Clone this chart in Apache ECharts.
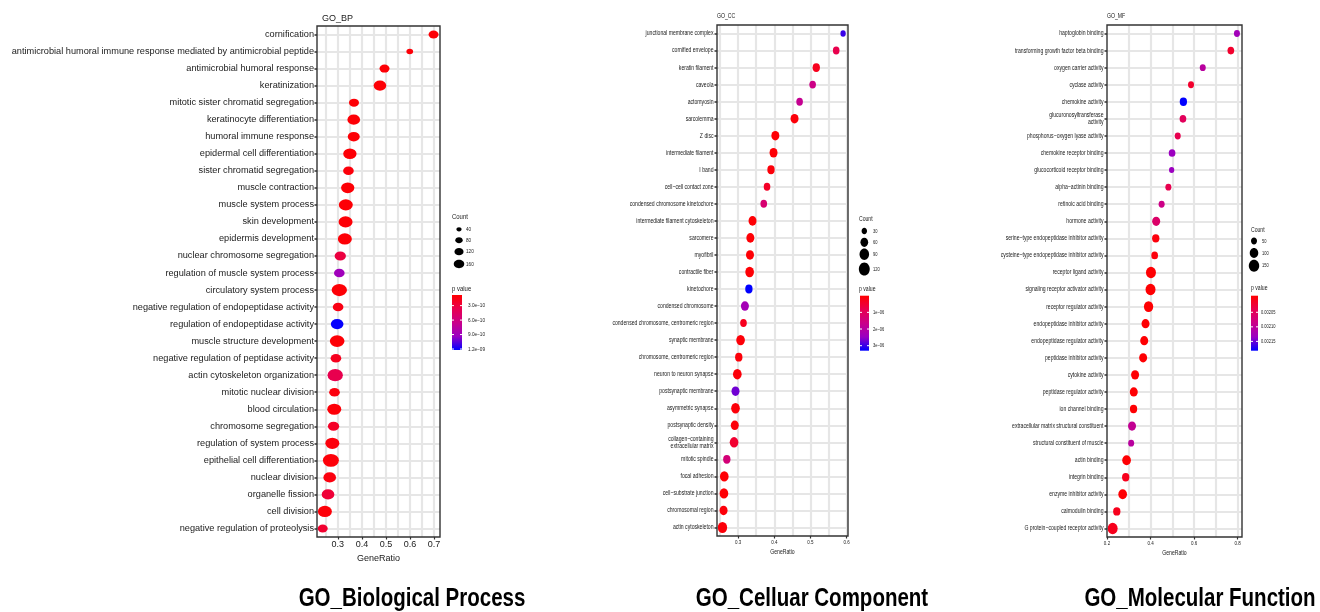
<!DOCTYPE html>
<html>
<head>
<meta charset="utf-8">
<script src="https://cdn.jsdelivr.net/npm/echarts@6/dist/echarts.min.js"></script>
<style>
  html, body { margin: 0; padding: 0; background: #fff; }
  #chart { width: 1320px; height: 612px; }
</style>
</head>
<body>
<div id="chart"></div>
<script>
// ---------- GO Biological Process ----------
const bpTerms = [
  'cornification',
  'antimicrobial humoral immune response mediated by antimicrobial peptide',
  'antimicrobial humoral response',
  'keratinization',
  'mitotic sister chromatid segregation',
  'keratinocyte differentiation',
  'humoral immune response',
  'epidermal cell differentiation',
  'sister chromatid segregation',
  'muscle contraction',
  'muscle system process',
  'skin development',
  'epidermis development',
  'nuclear chromosome segregation',
  'regulation of muscle system process',
  'circulatory system process',
  'negative regulation of endopeptidase activity',
  'regulation of endopeptidase activity',
  'muscle structure development',
  'negative regulation of peptidase activity',
  'actin cytoskeleton organization',
  'mitotic nuclear division',
  'blood circulation',
  'chromosome segregation',
  'regulation of system process',
  'epithelial cell differentiation',
  'nuclear division',
  'organelle fission',
  'cell division',
  'negative regulation of proteolysis'
];
const bpRatio = [0.698, 0.599, 0.494, 0.475, 0.367, 0.366, 0.366, 0.350, 0.344, 0.341,
                 0.333, 0.332, 0.329, 0.310, 0.306, 0.306, 0.301, 0.297, 0.297, 0.292,
                 0.289, 0.286, 0.285, 0.282, 0.277, 0.271, 0.266, 0.259, 0.246, 0.237];
const bpCount = [145, 65, 145, 233, 145, 233, 209, 258, 165, 258,
                 285, 285, 285, 186, 165, 341, 165, 233, 312, 165,
                 341, 165, 285, 186, 285, 372, 233, 233, 285, 145];
const bpP = [1.0e-10, 1.1e-10, 1.0e-10, 1.0e-10, 1.0e-10, 1.0e-10, 1.0e-10, 1.0e-10, 1.2e-10, 1.0e-10,
             1.0e-10, 1.0e-10, 1.0e-10, 3.1e-10, 9.0e-10, 1.0e-10, 1.5e-10, 1.21e-9, 1.0e-10, 1.9e-10,
             3.6e-10, 1.3e-10, 1.1e-10, 2.2e-10, 1.2e-10, 1.1e-10, 1.3e-10, 2.8e-10, 1.1e-10, 2.5e-10];
const bpTicks = [0.3, 0.4, 0.5, 0.6, 0.7];
const bpGridX = [0.25, 0.3, 0.35, 0.4, 0.45, 0.5, 0.55, 0.6, 0.65, 0.7];
const bpCountBreaks = [40, 80, 120, 160];
const bpPBreaks = [3e-10, 6e-10, 9e-10, 1.2e-9];
const bpPLabels = ['3.0e\u221210', '6.0e\u221210', '9.0e\u221210', '1.2e\u221209'];

// ---------- GO Cellular Component ----------
const ccTerms = [
  'junctional membrane complex',
  'cornified envelope',
  'keratin filament',
  'caveola',
  'actomyosin',
  'sarcolemma',
  'Z disc',
  'intermediate filament',
  'I band',
  'cell\u2212cell contact zone',
  'condensed chromosome kinetochore',
  'intermediate filament cytoskeleton',
  'sarcomere',
  'myofibril',
  'contractile fiber',
  'kinetochore',
  'condensed chromosome',
  'condensed chromosome, centromeric region',
  'synaptic membrane',
  'chromosome, centromeric region',
  'neuron to neuron synapse',
  'postsynaptic membrane',
  'asymmetric synapse',
  'postsynaptic density',
  'collagen\u2212containing\nextracellular matrix',
  'mitotic spindle',
  'focal adhesion',
  'cell\u2212substrate junction',
  'chromosomal region',
  'actin cytoskeleton'
];
const ccRatio = [0.590, 0.571, 0.516, 0.506, 0.470, 0.456, 0.403, 0.398, 0.391, 0.380,
                 0.371, 0.340, 0.334, 0.333, 0.332, 0.330, 0.319, 0.315, 0.307, 0.302,
                 0.298, 0.293, 0.293, 0.291, 0.289, 0.269, 0.262, 0.261, 0.260, 0.257];
const ccCount = [28, 44, 54, 44, 44, 64, 64, 64, 54, 44,
                 44, 64, 64, 64, 75, 54, 64, 44, 75, 54,
                 75, 64, 75, 64, 75, 54, 75, 75, 64, 87];
const ccP = [3.0e-6, 0.8e-6, 0.3e-6, 1.6e-6, 1.75e-6, 0.1e-6, 0.05e-6, 0.05e-6, 0.1e-6, 0.4e-6,
             1.3e-6, 0.05e-6, 0.05e-6, 0.05e-6, 0.05e-6, 3.3e-6, 2.3e-6, 0.3e-6, 0.08e-6, 0.1e-6,
             0.1e-6, 2.7e-6, 0.1e-6, 0.1e-6, 0.5e-6, 1.4e-6, 0.05e-6, 0.05e-6, 0.1e-6, 0.1e-6];
const ccTicks = [0.3, 0.4, 0.5, 0.6];
const ccGridX = [0.25, 0.3, 0.35, 0.4, 0.45, 0.5, 0.55, 0.6];
const ccCountBreaks = [30, 60, 90, 120];
const ccPBreaks = [1e-6, 2e-6, 3e-6];
const ccPLabels = ['1e\u221206', '2e\u221206', '3e\u221206'];

// ---------- GO Molecular Function ----------
const mfTerms = [
  'haptoglobin binding',
  'transforming growth factor beta binding',
  'oxygen carrier activity',
  'cyclase activity',
  'chemokine activity',
  'glucuronosyltransferase\nactivity',
  'phosphorus\u2212oxygen lyase activity',
  'chemokine receptor binding',
  'glucocorticoid receptor binding',
  'alpha\u2212actinin binding',
  'retinoic acid binding',
  'hormone activity',
  'serine\u2212type endopeptidase inhibitor activity',
  'cysteine\u2212type endopeptidase inhibitor activity',
  'receptor ligand activity',
  'signaling receptor activator activity',
  'receptor regulator activity',
  'endopeptidase inhibitor activity',
  'endopeptidase regulator activity',
  'peptidase inhibitor activity',
  'cytokine activity',
  'peptidase regulator activity',
  'ion channel binding',
  'extracellular matrix structural constituent',
  'structural constituent of muscle',
  'actin binding',
  'integrin binding',
  'enzyme inhibitor activity',
  'calmodulin binding',
  'G protein\u2212coupled receptor activity'
];
const mfRatio = [0.797, 0.769, 0.640, 0.586, 0.551, 0.549, 0.525, 0.499, 0.497, 0.482,
                 0.451, 0.426, 0.424, 0.419, 0.402, 0.400, 0.391, 0.377, 0.371, 0.366,
                 0.329, 0.323, 0.322, 0.315, 0.311, 0.290, 0.286, 0.272, 0.245, 0.226];
const mfCount = [50, 62, 50, 50, 74, 62, 50, 62, 39, 50,
                 50, 89, 74, 62, 138, 138, 120, 89, 89, 89,
                 89, 89, 74, 89, 50, 104, 74, 104, 74, 138];
const mfP = [0.002127, 0.002020, 0.002105, 0.002020, 0.002182, 0.002050, 0.002040, 0.002133, 0.002133, 0.002040,
             0.002085, 0.002060, 0.002000, 0.002000, 0.001995, 0.001995, 0.001995, 0.001995, 0.001995, 0.001995,
             0.001995, 0.001995, 0.001995, 0.002095, 0.002105, 0.001995, 0.002010, 0.001995, 0.002010, 0.002010];
const mfTicks = [0.2, 0.4, 0.6, 0.8];
const mfGridX = [0.3, 0.4, 0.5, 0.6, 0.7, 0.8];
const mfCountBreaks = [50, 100, 150];
const mfPBreaks = [0.00205, 0.0021, 0.00215];
const mfPLabels = ['0.00205', '0.00210', '0.00215'];

// ---------- styling ----------
const SANS = "'Liberation Sans', Arial, sans-serif";
const P_COLORS = ['#FF0000', '#E8004F', '#CA0089', '#9A00C2', '#0000FF'];
const GRID_LINE = '#E6E6E6';
const INK = '#1a1a1a';

const panels = [
  {
    title: 'GO_BP', caption: 'GO_Biological Process', captionX: 412, narrow: false,
    terms: bpTerms, ratio: bpRatio, count: bpCount, p: bpP,
    ticks: bpTicks, gridX: bpGridX,
    rect: { left: 317, top: 26, width: 123, height: 511 },
    xMin: 0.2132, xMax: 0.7248, pMin: 0.8e-10, pMax: 1.22e-9,
    sizeK: 0.83, aspect: 0.8,
    legendScale: 0.85,
    legend: { x: 452, countTitleY: 217, circleX: 459, circleY: [229.3, 240.3, 251.7, 264], labelX: 466,
              pTitleY: 289, bar: { x: 452, y: 295, w: 10, h: 55 }, pLabelX: 468 },
    countBreaks: bpCountBreaks, pBreaks: bpPBreaks, pLabels: bpPLabels
  },
  {
    title: 'GO_CC', caption: 'GO_Celluar Component', captionX: 812, narrow: true,
    terms: ccTerms, ratio: ccRatio, count: ccCount, p: ccP,
    ticks: ccTicks, gridX: ccGridX,
    rect: { left: 717, top: 25, width: 131, height: 511 },
    xMin: 0.2419, xMax: 0.6036, pMin: 0.001e-6, pMax: 3.3e-6,
    sizeK: 1.0, aspect: 1.2,
    legendScale: 0.73,
    legend: { x: 859, countTitleY: 219, circleX: 864.3, circleY: [231, 242.3, 254.3, 269], labelX: 873,
              pTitleY: 289, bar: { x: 860, y: 295.7, w: 9, h: 55 }, pLabelX: 873 },
    countBreaks: ccCountBreaks, pBreaks: ccPBreaks, pLabels: ccPLabels
  },
  {
    title: 'GO_MF', caption: 'GO_Molecular Function', captionX: 1200, narrow: true,
    terms: mfTerms, ratio: mfRatio, count: mfCount, p: mfP,
    ticks: mfTicks, gridX: mfGridX,
    rect: { left: 1107, top: 25, width: 135, height: 512 },
    xMin: 0.2, xMax: 0.8203, pMin: 0.001993, pMax: 0.002182,
    sizeK: 0.85, aspect: 1.15,
    legendScale: 0.73,
    legend: { x: 1251, countTitleY: 230, circleX: 1254, circleY: [241, 253, 265.7], labelX: 1262,
              pTitleY: 288, bar: { x: 1251, y: 295.7, w: 7, h: 55 }, pLabelX: 1261 },
    countBreaks: mfCountBreaks, pBreaks: mfPBreaks, pLabels: mfPLabels
  }
];

// dot size: width grows with sqrt(count); each panel has its own aspect
function dotSize(panel, count) {
  const w = panel.sizeK * Math.sqrt(count);
  return [w, w * panel.aspect];
}

// horizontally condensed text (the narrow panels use squeezed lettering)
function squeezedText(x, y, text, size, scale, align, vAlign, weight, color) {
  return {
    type: 'text', x: x, y: y, scaleX: scale, silent: true, z: 50,
    style: {
      text: text, x: 0, y: 0,
      font: (weight || 'normal') + ' ' + size + 'px ' + SANS,
      fill: color || INK, align: align, verticalAlign: vAlign,
      lineHeight: size * 1.02
    }
  };
}

const grids = [], xAxes = [], yAxes = [], series = [], visualMaps = [], titles = [];

panels.forEach((pn, i) => {
  grids.push({ left: pn.rect.left, top: pn.rect.top, width: pn.rect.width, height: pn.rect.height, show: false });

  xAxes.push({
    type: 'value', gridIndex: i, min: pn.xMin, max: pn.xMax,
    name: pn.narrow ? '' : 'GeneRatio', nameLocation: 'middle', nameGap: 11,
    nameTextStyle: { fontFamily: SANS, fontSize: 9, color: INK },
    axisLine: { show: false },
    axisTick: { show: true, customValues: pn.ticks, length: 2.5, lineStyle: { color: '#333', width: 1.2 } },
    axisLabel: { show: !pn.narrow, customValues: pn.ticks, fontFamily: SANS, fontSize: 9, color: INK, margin: 3,
                 formatter: v => String(Math.round(v * 10) / 10) },
    splitLine: { show: false }
  });

  yAxes.push({
    type: 'category', gridIndex: i, data: pn.terms, inverse: true,
    axisLine: { show: false },
    axisTick: { show: true, alignWithLabel: true, interval: 0, length: 2.5, lineStyle: { color: '#333', width: 1.5 } },
    axisLabel: { show: !pn.narrow, interval: 0, fontFamily: SANS, fontSize: 9.2, color: INK, margin: 3 },
    splitLine: { show: false }
  });

  const lines = pn.gridX.map(v => ({ xAxis: v }))
    .concat(pn.terms.map((t, j) => ({ yAxis: j })));

  series.push({
    type: 'scatter', xAxisIndex: i, yAxisIndex: i,
    data: pn.terms.map((t, j) => [pn.ratio[j], j, pn.count[j], pn.p[j]]),
    symbolSize: v => dotSize(pn, v[2]),
    itemStyle: { opacity: 1 },
    emphasis: { disabled: true },
    z: 3,
    markLine: {
      silent: true, z: 1, symbol: ['none', 'none'], label: { show: false },
      lineStyle: { color: GRID_LINE, width: 2.2, type: 'solid' },
      emphasis: { disabled: true },
      data: lines
    }
  });

  visualMaps.push({
    type: 'continuous', show: false, seriesIndex: i, dimension: 3,
    min: pn.pMin, max: pn.pMax, inRange: { color: P_COLORS }
  });

  if (!pn.narrow) {
    titles.push({
      text: pn.title, left: pn.rect.left, top: 9,
      textStyle: { fontFamily: SANS, fontSize: 9, fontWeight: 'normal', color: INK }
    });
  }
});

const chart = echarts.init(document.getElementById('chart'), null, { renderer: 'canvas' });
chart.setOption({
  backgroundColor: '#fff',
  animation: false,
  title: titles,
  grid: grids,
  xAxis: xAxes,
  yAxis: yAxes,
  visualMap: visualMaps,
  series: series
});

// frames, squeezed axis text, legends and captions
const graphics = [];
panels.forEach((pn, i) => {
  const r = pn.rect;
  const toPx = (x, y) => chart.convertToPixel({ gridIndex: i }, [x, y]);

  graphics.push({
    type: 'rect', z: 100, silent: true,
    shape: { x: r.left, y: r.top, width: r.width, height: r.height },
    style: { fill: 'none', stroke: '#333', lineWidth: 1.4 }
  });

  if (pn.narrow) {
    pn.terms.forEach((t, j) => {
      const y = toPx(pn.xMin, j)[1];
      graphics.push(squeezedText(r.left - 3.5, y, t, 7, 0.73, 'right', 'middle'));
    });
    pn.ticks.forEach(v => {
      const x = toPx(v, 0)[0];
      graphics.push(squeezedText(x, r.top + r.height + 3, String(v), 6, 0.75, 'center', 'top'));
    });
    graphics.push(squeezedText(r.left + r.width / 2, r.top + r.height + 15.7, 'GeneRatio', 7, 0.73, 'center', 'middle'));
    graphics.push(squeezedText(r.left, r.top - 9, pn.title, 7, 0.73, 'left', 'middle'));
  }

  graphics.push(squeezedText(pn.captionX, 599, pn.caption, 25, 0.82, 'center', 'middle', 'bold', '#000'));

  // size legend
  const lg = pn.legend;
  const ls = pn.legendScale;
  graphics.push(squeezedText(lg.x, lg.countTitleY, 'Count', 7, ls, 'left', 'middle'));
  pn.countBreaks.forEach((b, k) => {
    const s = dotSize(pn, b);
    graphics.push({
      type: 'ellipse', silent: true,
      shape: { cx: lg.circleX, cy: lg.circleY[k], rx: s[0] / 2, ry: s[1] / 2 },
      style: { fill: '#000' }
    });
    graphics.push(squeezedText(lg.labelX, lg.circleY[k], String(b), 5.5, ls, 'left', 'middle'));
  });

  // colour legend
  graphics.push(squeezedText(lg.x, lg.pTitleY, 'p value', 7, ls, 'left', 'middle'));
  const bar = lg.bar;
  graphics.push({
    type: 'rect', silent: true,
    shape: { x: bar.x, y: bar.y, width: bar.w, height: bar.h },
    style: {
      fill: new echarts.graphic.LinearGradient(0, 0, 0, 1,
        P_COLORS.map((c, k) => ({ offset: k / (P_COLORS.length - 1), color: c })))
    }
  });
  pn.pBreaks.forEach((b, k) => {
    const y = bar.y + (b - pn.pMin) / (pn.pMax - pn.pMin) * bar.h;
    graphics.push({ type: 'line', silent: true, shape: { x1: bar.x, y1: y, x2: bar.x + 2, y2: y }, style: { stroke: '#fff', lineWidth: 1 } });
    graphics.push({ type: 'line', silent: true, shape: { x1: bar.x + bar.w - 2, y1: y, x2: bar.x + bar.w, y2: y }, style: { stroke: '#fff', lineWidth: 1 } });
    graphics.push(squeezedText(lg.pLabelX, y, pn.pLabels[k], 5.5, ls, 'left', 'middle'));
  });
});
chart.setOption({ graphic: { elements: graphics } });
</script>
</body>
</html>
